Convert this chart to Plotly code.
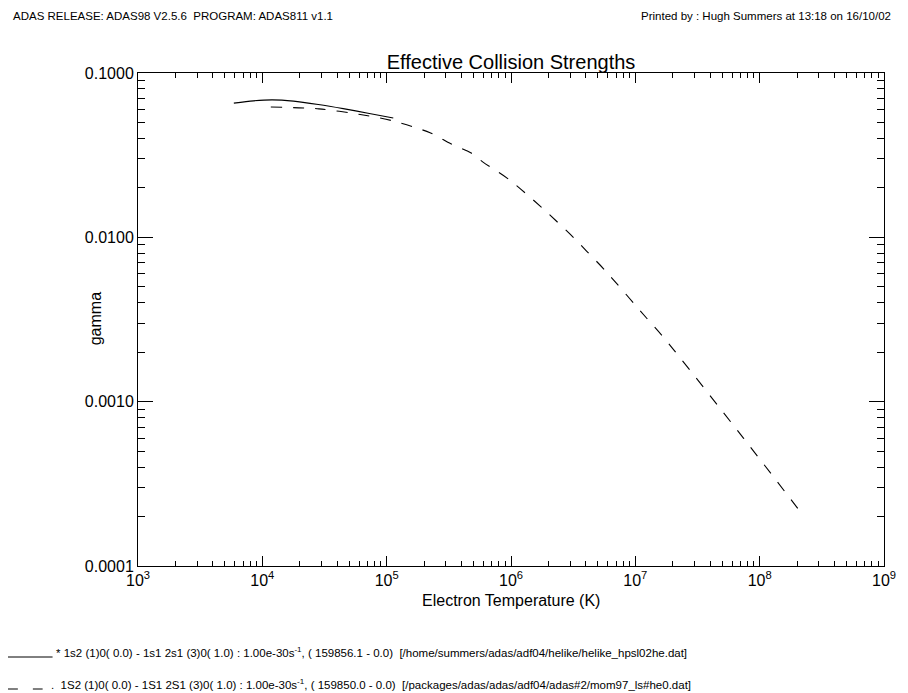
import plotly.graph_objects as go

# ---- data ----
T_solid = [5900, 8500, 12000, 17800, 28200, 44700, 70800, 113000]
gamma_solid = [0.0656, 0.0677, 0.0686, 0.0674, 0.0643, 0.0607, 0.0569, 0.0532]

T_dashed = [11700, 28500, 63100, 108900, 223400, 328100, 474300, 591600, 970000,
            1.78e6, 3.21e6, 4.07e6, 5.68e6, 1.23e7, 1.68e7, 7.43e7, 2.24e8]
gamma_dashed = [0.0621, 0.0605, 0.0557, 0.0514, 0.0433, 0.0371, 0.0327, 0.0288, 0.0224,
                0.0151, 0.00991, 0.00822, 0.00632, 0.00323, 0.00247, 0.000598, 0.000203]

x_ticks = [1e3, 1e4, 1e5, 1e6, 1e7, 1e8, 1e9]
x_ticklabels = ["10<sup>3</sup>", "10<sup>4</sup>", "10<sup>5</sup>", "10<sup>6</sup>",
                "10<sup>7</sup>", "10<sup>8</sup>", "10<sup>9</sup>"]
y_ticks = [1e-4, 1e-3, 1e-2, 1e-1]
y_ticklabels = ["0.0001", "0.0010", "0.0100", "0.1000"]

header_left = "ADAS RELEASE: ADAS98 V2.5.6\u00a0\u00a0PROGRAM: ADAS811 v1.1"
header_right = "Printed by : Hugh Summers at 13:18 on 16/10/02"
legend1 = ("* 1s2 (1)0( 0.0) - 1s1 2s1 (3)0( 1.0) : 1.00e-30s<sup>-1</sup>, ( 159856.1 - 0.0)"
           "\u00a0\u00a0[/home/summers/adas/adf04/helike/helike_hpsl02he.dat]")
legend2 = (".\u00a0\u00a01S2 (1)0( 0.0) - 1S1 2S1 (3)0( 1.0) : 1.00e-30s<sup>-1</sup>, ( 159850.0 - 0.0)"
           "\u00a0\u00a0[/packages/adas/adas/adf04/adas#2/mom97_ls#he0.dat]")

# ---- geometry (page pixels; the page body adds an 8px offset) ----
OFF = 8
W, H = 908 - OFF, 693 - OFF
L, R, T, B = 138 - OFF, 889 - OFF, 73 - OFF, 566 - OFF


def px(x):
    return (x - OFF - L) / (R - L)


def py(y):
    return (B - (y - OFF)) / (B - T)


FONT = "Liberation Sans, Arial, Helvetica, sans-serif"

fig = go.Figure()
fig.add_trace(go.Scatter(x=T_solid, y=gamma_solid, mode="lines",
                         line=dict(color="black", width=1.1, shape="spline", smoothing=0.8),
                         showlegend=False))
fig.add_trace(go.Scatter(x=T_dashed, y=gamma_dashed, mode="lines",
                         line=dict(color="black", width=1.1, dash="11px,11px",
                                   shape="spline", smoothing=0.8),
                         showlegend=False))

minor_x = [m * 10 ** e for e in range(3, 9) for m in range(2, 10)]
minor_y = [m * 10.0 ** e for e in range(-4, -1) for m in range(2, 10)]

axis_common = dict(type="log", showline=True, linecolor="black", linewidth=1,
                   mirror="allticks", ticks="inside", tickcolor="black", tickwidth=1,
                   showgrid=False, zeroline=False, tickfont=dict(size=16, color="black"))

fig.update_layout(
    width=W, height=H,
    margin=dict(l=L, r=W - R, t=T, b=H - B, pad=0),
    paper_bgcolor="white", plot_bgcolor="white",
    font=dict(family=FONT, color="black"),
    title=dict(text="Effective Collision Strengths", x=0.5, xref="paper", xanchor="center",
               y=1 - (62 - OFF) / H, yref="container", yanchor="middle",
               font=dict(size=20, color="black", family=FONT)),
    xaxis=dict(range=[3, 9], tickmode="array", tickvals=x_ticks, ticktext=x_ticklabels,
               ticklen=10,
               minor=dict(tickmode="array", tickvals=minor_x, ticks="inside", ticklen=5,
                          tickcolor="black", tickwidth=1, showgrid=False),
               **axis_common),
    yaxis=dict(range=[-4, -1], tickmode="array", tickvals=y_ticks, ticktext=y_ticklabels,
               ticklen=15,
               minor=dict(tickmode="array", tickvals=minor_y, ticks="inside", ticklen=7,
                          tickcolor="black", tickwidth=1, showgrid=False),
               **axis_common),
)

ann = []
ann.append(dict(text=header_left, x=px(10), y=py(16), xref="paper", yref="paper",
                xanchor="left", yanchor="middle", showarrow=False,
                font=dict(size=11.5, family=FONT, color="black")))
ann.append(dict(text=header_right, x=px(898), y=py(16), xref="paper", yref="paper",
                xanchor="right", yanchor="middle", showarrow=False,
                font=dict(size=11.5, family=FONT, color="black")))
ann.append(dict(text="gamma", x=px(95), y=py(319), xref="paper", yref="paper",
                xanchor="center", yanchor="middle", textangle=-90, showarrow=False,
                font=dict(size=16, family=FONT, color="black")))
ann.append(dict(text="Electron Temperature (K)", x=px(513), y=py(600), xref="paper", yref="paper",
                xanchor="center", yanchor="middle", showarrow=False,
                font=dict(size=16, family=FONT, color="black")))
ann.append(dict(text=legend1, x=px(53), y=py(652), xref="paper", yref="paper",
                xanchor="left", yanchor="middle", showarrow=False,
                font=dict(size=11.5, family=FONT, color="black")))
ann.append(dict(text=legend2, x=px(48), y=py(684), xref="paper", yref="paper",
                xanchor="left", yanchor="middle", showarrow=False,
                font=dict(size=11.5, family=FONT, color="black")))
fig.update_layout(annotations=ann)

fig.add_shape(type="line", xref="paper", yref="paper", x0=px(7), x1=px(52), y0=py(657), y1=py(657),
              line=dict(color="black", width=1))
fig.add_shape(type="line", xref="paper", yref="paper", x0=px(7), x1=px(42), y0=py(689), y1=py(689),
              line=dict(color="black", width=1, dash="10px,15px"))

fig.write_html("out.html")
